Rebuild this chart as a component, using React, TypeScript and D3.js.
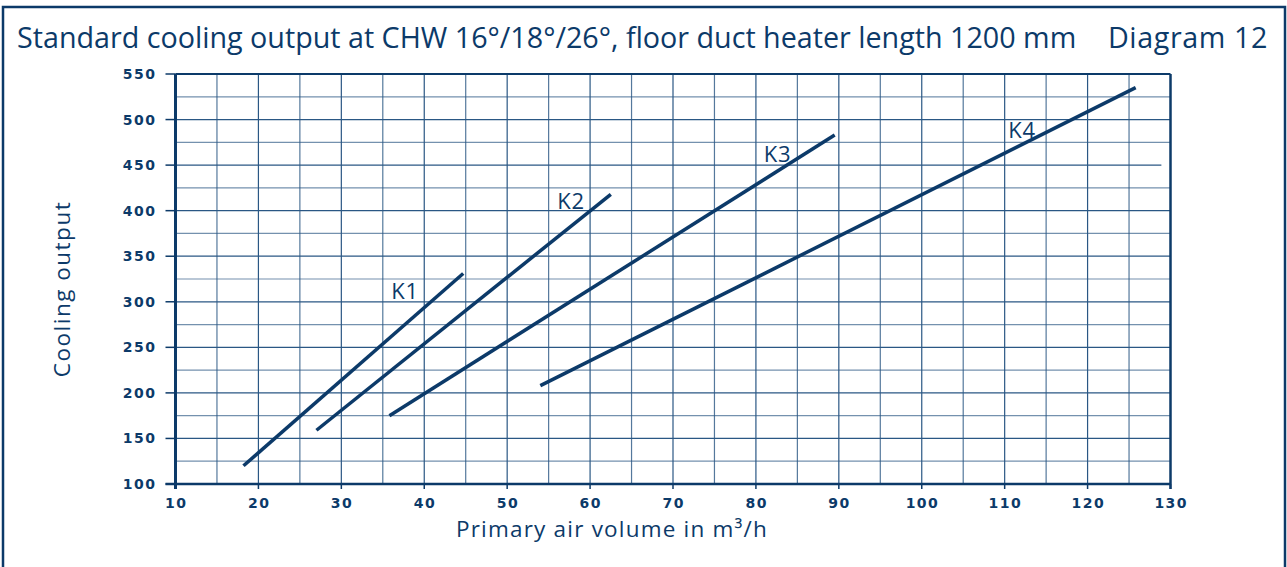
import { useEffect, useRef } from "react";
import * as d3 from "d3";

const W = 1287;
const H = 567;
const NAVY = "#0c3a69";

// curves K1..K4, endpoints (air volume m³/h, cooling output W)
const curveNames = ["K1", "K2", "K3", "K4"];
const curveStartX = [18.2, 27, 35.8, 54];
const curveStartY = [120, 159, 175, 208];
const curveEndX = [44.7, 62.5, 89.5, 125.8];
const curveEndY = [331, 418, 483, 535];
// label anchor positions (data coords)
const labelX = [37.7, 57.7, 82.6, 112.1];
const labelY = [303, 402, 453, 480];

const xTicks = [10, 20, 30, 40, 50, 60, 70, 80, 90, 100, 110, 120, 130];
const yTicks = [100, 150, 200, 250, 300, 350, 400, 450, 500, 550];

const App = () => {
  const svgRef = useRef<SVGSVGElement>(null);

  useEffect(() => {
    const svg = d3.select(svgRef.current);
    svg.selectAll("*").remove();

    const font = "'Open Sans', 'Noto Sans', sans-serif";
    const tickFont = "'DejaVu Sans', Verdana, sans-serif";
    const x = d3.scaleLinear().domain([10, 130]).range([175.5, 1170.5]);
    const y = d3.scaleLinear().domain([100, 550]).range([484, 74]);

    svg
      .append("rect")
      .attr("x", 3)
      .attr("y", 7)
      .attr("width", 1282)
      .attr("height", 600)
      .attr("fill", "white")
      .attr("stroke", NAVY)
      .attr("stroke-width", 2.5);

    svg
      .append("text")
      .attr("x", 17)
      .attr("y", 48)
      .attr("font-family", font)
      .attr("font-size", 28.7)
      .attr("fill", NAVY)
      .text("Standard cooling output at CHW 16°/18°/26°, floor duct heater length 1200 mm");

    svg
      .append("text")
      .attr("x", 1268)
      .attr("y", 48)
      .attr("text-anchor", "end")
      .attr("font-family", font)
      .attr("font-size", 28.7)
      .attr("letter-spacing", 0.6)
      .attr("fill", NAVY)
      .text("Diagram 12");

    // grid
    const grid = svg.append("g").attr("stroke", "#2a5784").attr("stroke-width", 1.2);
    d3.range(15, 130, 5).forEach((v) => {
      grid
        .append("line")
        .attr("x1", x(v))
        .attr("x2", x(v))
        .attr("y1", y(100))
        .attr("y2", y(550))
        .attr("opacity", v % 10 === 0 ? 1 : 0.8);
    });
    d3.range(125, 550, 25).forEach((v) => {
      grid
        .append("line")
        .attr("x1", x(10))
        .attr("x2", v === 450 ? x(128.9) : x(130))
        .attr("y1", y(v))
        .attr("y2", y(v))
        .attr("opacity", v % 50 === 0 ? 1 : 0.65);
    });

    // frame of the plot
    svg
      .append("line")
      .attr("x1", x(10))
      .attr("x2", x(130))
      .attr("y1", y(550))
      .attr("y2", y(550))
      .attr("stroke", NAVY)
      .attr("stroke-width", 2);
    svg
      .append("line")
      .attr("x1", x(130))
      .attr("x2", x(130))
      .attr("y1", y(550))
      .attr("y2", y(100) + 5)
      .attr("stroke", NAVY)
      .attr("stroke-width", 2.5);
    svg
      .append("line")
      .attr("x1", x(10))
      .attr("x2", x(10))
      .attr("y1", y(550))
      .attr("y2", y(100) + 5)
      .attr("stroke", NAVY)
      .attr("stroke-width", 3);
    svg
      .append("line")
      .attr("x1", x(10) - 10)
      .attr("x2", x(130))
      .attr("y1", y(100))
      .attr("y2", y(100))
      .attr("stroke", NAVY)
      .attr("stroke-width", 2.5);

    // y ticks
    yTicks.forEach((v) => {
      svg
        .append("line")
        .attr("x1", x(10) - 10)
        .attr("x2", x(10))
        .attr("y1", y(v))
        .attr("y2", y(v))
        .attr("stroke", NAVY)
        .attr("stroke-width", 1.5);
      svg
        .append("text")
        .attr("x", 156.5)
        .attr("y", y(v) + 5)
        .attr("text-anchor", "end")
        .attr("font-family", tickFont)
        .attr("font-weight", "bold")
        .attr("font-size", 14)
        .attr("letter-spacing", 1.5)
        .attr("fill", NAVY)
        .text(v);
    });

    // x ticks
    xTicks.forEach((v) => {
      svg
        .append("line")
        .attr("x1", x(v))
        .attr("x2", x(v))
        .attr("y1", y(100))
        .attr("y2", y(100) + 5)
        .attr("stroke", NAVY)
        .attr("stroke-width", 1.5);
      svg
        .append("text")
        .attr("x", x(v) + 0.75)
        .attr("y", 508)
        .attr("text-anchor", "middle")
        .attr("font-family", tickFont)
        .attr("font-weight", "bold")
        .attr("font-size", 14)
        .attr("letter-spacing", 1.5)
        .attr("fill", NAVY)
        .text(v);
    });

    svg
      .append("text")
      .attr("x", 612)
      .attr("y", 537)
      .attr("text-anchor", "middle")
      .attr("font-family", font)
      .attr("font-size", 22.5)
      .attr("letter-spacing", 1.2)
      .attr("fill", NAVY)
      .text("Primary air volume in m³/h");

    svg
      .append("text")
      .attr("transform", "translate(70,289) rotate(-90)")
      .attr("text-anchor", "middle")
      .attr("font-family", font)
      .attr("font-size", 22.5)
      .attr("letter-spacing", 1.5)
      .attr("fill", NAVY)
      .text("Cooling output");

    // curves
    const line = d3
      .line<[number, number]>()
      .x((d) => x(d[0]))
      .y((d) => y(d[1]));
    curveNames.forEach((name, i) => {
      svg
        .append("path")
        .attr(
          "d",
          line([
            [curveStartX[i], curveStartY[i]],
            [curveEndX[i], curveEndY[i]],
          ])
        )
        .attr("fill", "none")
        .attr("stroke", NAVY)
        .attr("stroke-width", 3.5);
      svg
        .append("text")
        .attr("x", x(labelX[i]))
        .attr("y", y(labelY[i]))
        .attr("text-anchor", "middle")
        .attr("font-family", font)
        .attr("font-size", 22)
        .attr("letter-spacing", 0.8)
        .attr("fill", NAVY)
        .text(name);
    });
  }, []);

  return (
    <svg
      ref={svgRef}
      width={W}
      height={H}
      style={{ position: "absolute", left: 0, top: 0, background: "white" }}
    />
  );
};

export default App;
